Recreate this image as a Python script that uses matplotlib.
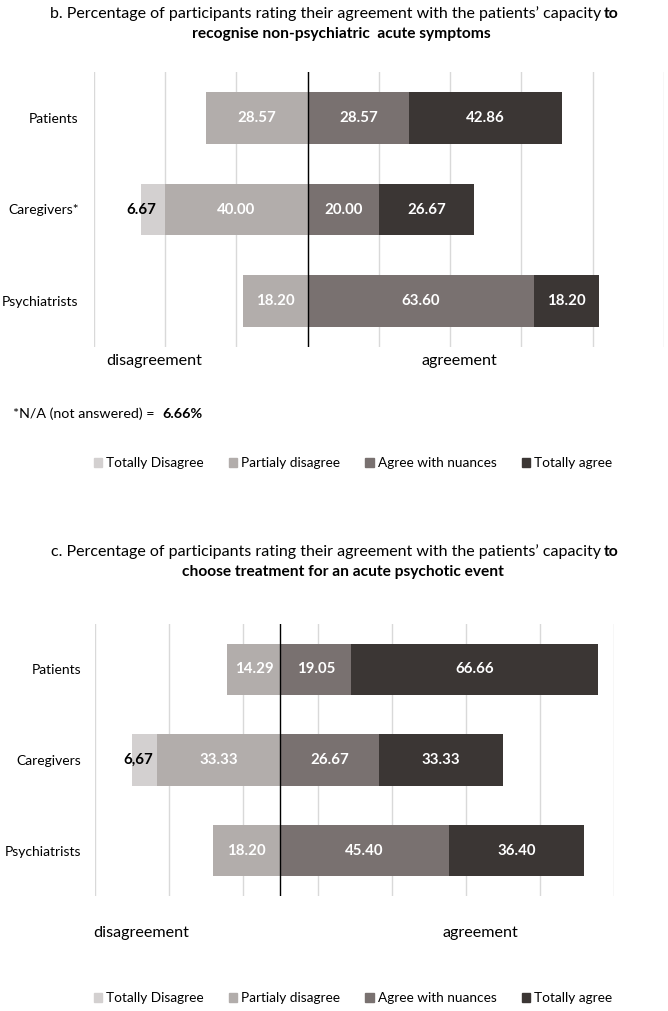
import matplotlib
matplotlib.use("Agg")
import matplotlib.pyplot as plt
from matplotlib.patches import Patch

plt.rcParams['font.family'] = ['Lato', 'DejaVu Sans']

# panel b data (percent)
b_groups = ['Patients', 'Caregivers*', 'Psychiatrists']
b_totally_disagree = [0, 6.67, 0]
b_partial_disagree = [28.57, 40.00, 18.20]
b_agree_nuances = [28.57, 20.00, 63.60]
b_totally_agree = [42.86, 26.67, 18.20]

# panel c data (percent)
c_groups = ['Patients', 'Caregivers', 'Psychiatrists']
c_totally_disagree = [0, 6.67, 0]
c_partial_disagree = [14.29, 33.33, 18.20]
c_agree_nuances = [19.05, 26.67, 45.40]
c_totally_agree = [66.66, 33.33, 36.40]
c_td_labels = ['', '6,67', '']

categories = ['Totally Disagree', 'Partialy disagree', 'Agree with nuances', 'Totally agree']
colors = ['#d3d0d0', '#b2adab', '#797170', '#3b3634']

W, H = 668, 1011
fig = plt.figure(figsize=(W / 100, H / 100), dpi=100)


def fx(x):
    return x / W


def fy(y):
    return 1 - y / H


def px_axes(x0, y0, x1, y1):
    return fig.add_axes([fx(x0), fy(y1), (x1 - x0) / W, (y1 - y0) / H])


def panel(ax, groups, td, pd, an, ta, xmin, xmax, td_labels, td_shift, pad):
    y = list(range(len(groups)))
    h = 0.565
    left_pd = [-p for p in pd]
    left_td = [-(p + t) for p, t in zip(pd, td)]
    ax.barh(y, td, left=left_td, height=h, color=colors[0])
    ax.barh(y, pd, left=left_pd, height=h, color=colors[1])
    ax.barh(y, an, left=0, height=h, color=colors[2])
    ax.barh(y, ta, left=an, height=h, color=colors[3])
    ax.set_xlim(xmin, xmax)
    ax.set_ylim(len(groups) - 0.5, -0.5)
    ax.set_xticks(range(xmin, xmax + 1, 20))
    ax.grid(axis='x', color='#d9d9d9', lw=1)
    ax.set_axisbelow(True)
    ax.tick_params(length=0, labelbottom=False, pad=pad, labelsize=10)
    ax.set_yticks(y, groups)
    for s in ax.spines.values():
        s.set_visible(False)
    ax.axvline(0, color='black', lw=1)
    for i in y:
        segs = [(-pd[i] / 2, pd[i]), (an[i] / 2, an[i]), (an[i] + ta[i] / 2, ta[i])]
        for xc, v in segs:
            if v > 0:
                ax.text(xc, i, f'{v:.2f}', ha='center', va='center', color='white',
                        fontweight='bold', fontsize=10.8)
        if td[i] > 0:
            lab = td_labels[i] if td_labels else f'{td[i]:.2f}'
            ax.text(left_td[i] + td_shift, i, lab, ha='center', va='center',
                    color='black', fontweight='bold', fontsize=10.8)


def legend(ypx):
    handles = [Patch(color=c, label=l) for c, l in zip(colors, categories)]
    fig.legend(handles=handles, loc='center', bbox_to_anchor=(fx(353), fy(ypx)), ncol=4,
               frameon=False, handlelength=0.6, handleheight=0.6, handletextpad=0.3,
               columnspacing=1.85, fontsize=9.8)


# panel b
ax_b = px_axes(93.8, 72, 663.8, 347)
panel(ax_b, b_groups, b_totally_disagree, b_partial_disagree, b_agree_nuances,
      b_totally_agree, -60, 100, None, 0, 11)
fig.text(fx(601), fy(14), 'b. Percentage of participants rating their agreement with the patients\u2019 capacity',
         ha='right', va='center', fontsize=11.5)
fig.text(fx(604), fy(14), 'to', ha='left', va='center', fontsize=11.3, fontweight='bold')
fig.text(fx(341), fy(34), 'recognise non-psychiatric  acute symptoms', ha='center', va='center',
         fontsize=11.2, fontweight='bold')
fig.text(fx(154), fy(361), 'disagreement', ha='center', va='center', fontsize=11.6)
fig.text(fx(459), fy(361), 'agreement', ha='center', va='center', fontsize=11.6)
fig.text(fx(13), fy(414), '*N/A (not answered) =', ha='left', va='center', fontsize=10.3)
fig.text(fx(162), fy(414), '6.66%', ha='left', va='center', fontsize=10.3, fontweight='bold')
legend(463)

# panel c
ax_c = px_axes(95.1, 624, 614.1, 896)
panel(ax_c, c_groups, c_totally_disagree, c_partial_disagree, c_agree_nuances,
      c_totally_agree, -50, 90, c_td_labels, 1.7, 10)
fig.text(fx(601), fy(552), 'c. Percentage of participants rating their agreement with the patients\u2019 capacity',
         ha='right', va='center', fontsize=11.5)
fig.text(fx(604), fy(552), 'to', ha='left', va='center', fontsize=11.3, fontweight='bold')
fig.text(fx(343), fy(572), 'choose treatment for an acute psychotic event', ha='center', va='center',
         fontsize=11.2, fontweight='bold')
fig.text(fx(141), fy(933), 'disagreement', ha='center', va='center', fontsize=11.6)
fig.text(fx(480), fy(933), 'agreement', ha='center', va='center', fontsize=11.6)
legend(998)

fig.savefig('out.png', dpi=100)
